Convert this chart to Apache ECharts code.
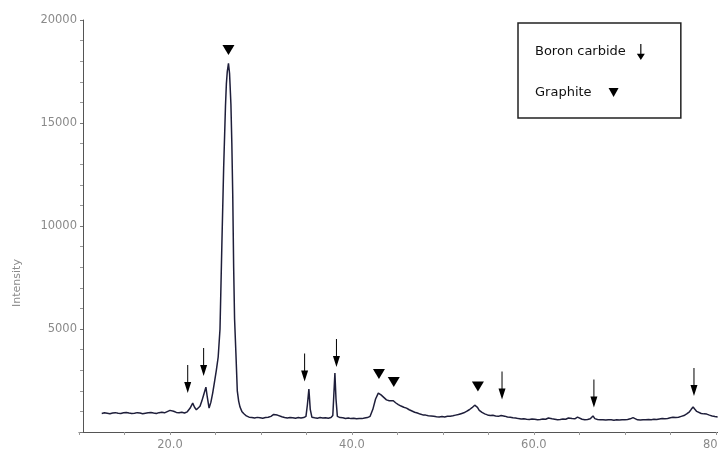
<!DOCTYPE html>
<html>
<head>
<meta charset="utf-8">
<script src="https://cdn.jsdelivr.net/npm/echarts@6/dist/echarts.min.js"></script>
<style>html,body{margin:0;padding:0;background:#fff}#c{width:718px;height:450px}</style>
</head>
<body>
<div id="c"></div>
<script>
// 2-theta (degrees) and intensity
var twoTheta = [12.5,12.8,13.1,13.4,13.7,14.0,14.3,14.6,14.9,15.2,15.5,15.8,16.1,16.4,16.7,17.0,17.3,17.6,17.9,18.2,18.5,18.8,19.1,19.4,19.7,20.0,20.2,20.4,20.7,21.0,21.3,21.6,21.9,22.2,22.5,22.7,22.9,23.1,23.3,23.5,23.7,23.95,24.1,24.3,
24.5,24.7,24.9,25.1,25.3,25.5,25.7,25.9,26.1,26.2,26.3,26.43,26.55,26.6,26.7,26.8,26.9,27.0,27.1,27.25,27.4,27.55,27.7,27.9,28.1,28.4,28.7,29.0,29.3,29.6,29.9,30.2,30.5,30.8,31.1,31.4,31.6,31.8,32.0,32.3,32.6,32.9,33.2,33.5,33.8,34.1,34.4,34.7,34.95,35.1,35.27,35.42,35.6,35.9,36.2,36.5,36.8,37.1,37.4,37.7,37.9,38.0,38.13,38.25,38.4,38.7,39.0,39.3,39.6,39.9,40.2,40.5,40.8,41.1,41.4,41.7,
42.0,42.3,42.6,42.9,43.2,43.5,43.8,44.1,44.3,44.55,44.8,45.1,45.4,45.7,46.0,46.3,46.6,46.9,47.2,47.5,47.8,48.1,48.4,48.7,49.0,49.3,49.6,49.9,50.2,50.5,50.8,51.1,51.4,51.7,52.0,52.3,52.6,52.9,53.2,53.5,53.65,53.8,54.0,54.3,54.6,54.9,55.2,55.5,55.8,56.1,56.4,56.6,56.8,57.1,57.4,57.7,58.0,58.3,58.6,58.9,59.2,59.5,59.8,60.1,60.4,60.7,61.0,61.3,61.6,61.8,62.0,62.3,62.6,62.9,63.2,63.5,63.8,64.0,64.2,64.5,64.8,65.0,65.3,65.6,65.9,66.2,66.5,66.7,67.0,67.3,67.6,67.9,68.2,68.5,68.8,69.1,69.4,69.7,70.0,70.3,70.6,70.9,71.1,71.4,71.7,72.0,72.3,72.6,72.9,73.2,73.5,73.8,74.1,74.4,74.7,75.0,75.3,75.6,75.9,76.2,76.5,76.8,77.1,77.3,77.5,77.7,77.9,78.1,78.4,78.7,79.0,79.3,79.6,79.9,80.2];
var intensity = [900,930,910,890,920,940,910,900,930,950,920,900,910,940,920,890,910,930,950,920,900,940,960,930,990,1050,1120,1010,950,930,960,920,980,1150,1400,1200,1080,1070,1250,1500,1800,2180,1700,1160,
1450,1900,2450,3000,3640,5000,9000,12800,15800,16900,17500,17900,17400,16900,15900,14000,11500,8000,5500,3800,2000,1500,1210,1000,900,780,720,700,680,710,690,670,700,720,760,850,880,820,860,740,700,680,700,690,670,700,680,700,760,1300,2090,1100,720,690,670,700,680,690,670,700,800,1700,2860,1600,760,700,690,660,680,650,670,640,660,650,680,700,
760,1100,1600,1890,1800,1680,1560,1520,1450,1520,1420,1330,1260,1200,1160,1080,1020,960,920,870,830,820,790,780,760,740,730,750,730,760,770,790,820,850,890,930,1000,1080,1180,1300,1360,1200,1050,950,880,830,800,810,780,760,800,860,770,730,720,690,680,650,630,640,620,610,630,620,600,610,630,620,680,720,640,620,600,610,630,620,680,740,650,640,720,650,620,600,610,640,780,650,610,590,600,580,600,590,570,590,580,600,590,610,640,700,620,590,580,600,590,610,600,620,610,630,650,640,660,690,720,700,720,760,800,880,980,1100,1210,1100,1000,950,900,880,870,820,780,750,730];

// marker positions (2-theta, intensity at marker centre)
var boronX = [21.95,23.7,34.8,38.3,56.5,66.6,77.6];
var boronY = [2573,3398,3131,3835,2257,1869,2427];
var graphiteX = [26.43,42.97,44.6,53.85];
var graphiteY = [18544,2815,2427,2209];

var yTicks = [0,20000,5000];   // min, max, interval
var xTicks = [10,82,5];

function pairs(a,b){var r=[];for(var i=0;i<a.length;i++)r.push([a[i],b[i]]);return r;}

var arrowPath = 'path://M6,0L8,0L8,17L14,17L7,28L0,17L6,17Z';
var triPath = 'path://M0,0L12,0L6,11Z';
var font = 'DejaVu Sans';

var chart = echarts.init(document.getElementById('c'), null, {renderer:'canvas'});
chart.setOption({
  animation:false,
  backgroundColor:'#ffffff',
  grid:{left:79, right:-16, top:20, bottom:18, containLabel:false, outerBoundsMode:'none'},
  legend:[{
    orient:'vertical', left:518, top:23, align:'right',
    data:['Boron carbide'],
    itemWidth:8, itemHeight:18, itemGap:0,
    padding:[21,36,58,17],
    borderColor:'#222', borderWidth:1.5, backgroundColor:'#fff',
    textStyle:{fontFamily:font, fontSize:13, color:'#111', padding:[0,6,0,0]},
    selectedMode:false, z:4
  },{
    orient:'vertical', left:535, top:86, align:'right',
    data:['Graphite'],
    itemWidth:10, itemHeight:10, itemGap:0,
    padding:0,
    textStyle:{fontFamily:font, fontSize:13, color:'#111', padding:[0,12,0,0]},
    selectedMode:false, z:5
  }],
  xAxis:{
    type:'value', min:xTicks[0], max:xTicks[1], interval:xTicks[2],
    axisLine:{lineStyle:{color:'#555', width:1}},
    axisTick:{length:3, lineStyle:{color:'#999'}},
    splitLine:{show:false},
    axisLabel:{fontFamily:font, fontSize:11.5, color:'#8a8a8a', margin:7, showMaxLabel:false, hideOverlap:false,
      formatter:function(v){return (Math.abs(v-Math.round(v))<1e-6 && Math.round(v)%20===0 && v>=20)? v.toFixed(1):'';}}
  },
  yAxis:{
    type:'value', min:yTicks[0], max:yTicks[1], interval:yTicks[2], offset:-4,
    name:'Intensity', nameLocation:'middle', nameGap:60,
    nameTextStyle:{fontFamily:font, fontSize:11, color:'#8a8a8a', padding:[0,114,0,0]},
    axisLine:{show:true, lineStyle:{color:'#555', width:1}},
    axisTick:{show:true, length:3, lineStyle:{color:'#777'}},
    minorTick:{show:true, splitNumber:5, length:3, lineStyle:{color:'#999'}},
    splitLine:{show:false},
    axisLabel:{fontFamily:font, fontSize:11.5, color:'#8a8a8a', margin:6, showMinLabel:false,
      formatter:function(v){return String(v);}}
  },
  series:[
    {type:'line', name:'pattern', data:pairs(twoTheta,intensity), showSymbol:false, symbol:'none',
     lineStyle:{color:'#1e1e3a', width:1.5}, z:2},
    {type:'scatter', name:'Boron carbide', data:pairs(boronX,boronY), symbol:arrowPath, symbolSize:[14,28],
     symbolKeepAspect:true, itemStyle:{color:'#000', opacity:1}, z:3},
    {type:'scatter', name:'Graphite', data:pairs(graphiteX,graphiteY), symbol:triPath, symbolSize:[12,11],
     symbolKeepAspect:true, itemStyle:{color:'#000', opacity:1}, z:3}
  ]
});
</script>
</body>
</html>
